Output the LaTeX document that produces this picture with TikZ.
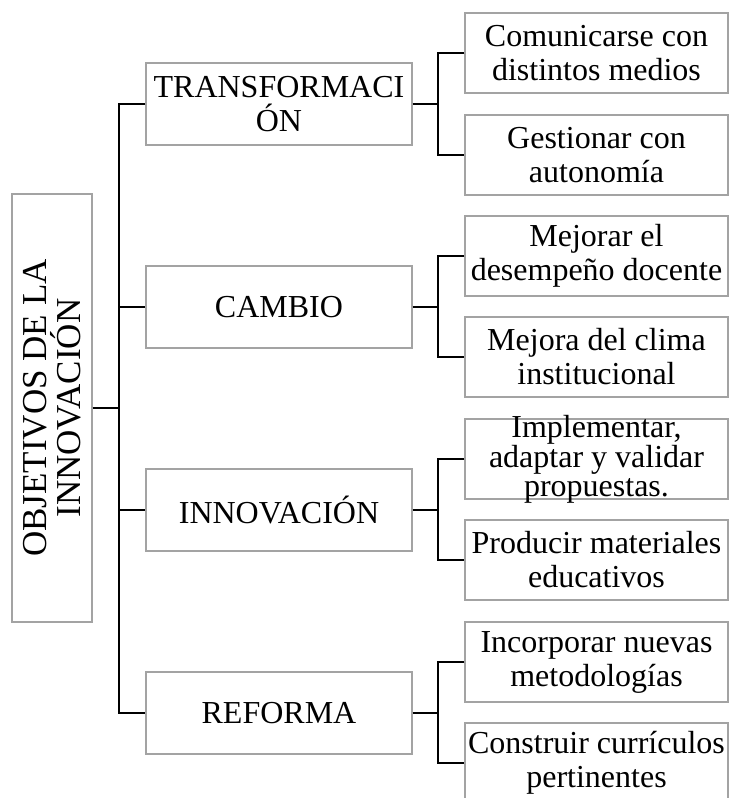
\documentclass[tikz,border=0pt]{standalone}
\usepackage{fontspec}
\setmainfont{Liberation Serif}
\usepackage{xcolor}
\usepackage{tikz}
\definecolor{boxline}{HTML}{A3A3A3}
\definecolor{link}{HTML}{000000}
\tikzset{
  rootbox/.style={draw=boxline, line width=1.3pt, minimum width=428pt, minimum height=80pt, inner sep=0pt, align=center, font=\fontsize{35}{34}\selectfont},
  topic/.style={draw=boxline, line width=1.3pt, minimum width=266pt, minimum height=82pt, inner sep=0pt, align=center, font=\fontsize{32}{34}\selectfont},
  leaf/.style={draw=boxline, line width=1.3pt, minimum width=263pt, minimum height=80pt, inner sep=0pt, align=center, font=\fontsize{32}{34}\selectfont},
  leaftxt/.style={inner sep=0pt, align=center, font=\fontsize{32}{29}\selectfont},
  conn/.style={draw=link, line width=2.6pt}
}
\begin{document}
\begin{tikzpicture}[x=1pt, y=-1pt]
  \useasboundingbox (0,0) rectangle (730,798);

  % root, turned on its side (its south anchor faces right)
  \node[rootbox, rotate=90] (root) at (52,408) {OBJETIVOS DE LA\\INNOVACIÓN};

  \node[topic] (trans) at (279,104) {TRANSFORMACI\\ÓN};
  \node[topic] (camb)  at (279,307) {CAMBIO};
  \node[topic] (innov) at (279,510) {INNOVACIÓN};
  \node[topic] (ref)   at (279,713) {REFORMA};

  \node[leaf] (com)  at (596.5,53)  {Comunicarse con\\distintos medios};
  \node[leaf] (gest) at (596.5,155) {Gestionar con\\autonomía};
  \node[leaf] (mejd) at (596.5,256) {Mejorar el\\desempeño docente};
  \node[leaf] (mejc) at (596.5,357) {Mejora del clima\\institucional};
  \node[leaf] (impl) at (596.5,459) {};
  \node[leaftxt] (impltxt) at (impl.center) {Implementar,\\adaptar y validar\\propuestas.};
  \node[leaf] (prod) at (596.5,560) {Producir materiales\\educativos};
  \node[leaf] (inc)  at (596.5,662) {Incorporar nuevas\\metodologías};
  \node[leaf] (cons) at (596.5,763) {Construir currículos\\pertinentes};

  \coordinate (tk) at (119,408);
  \coordinate (bt) at (438,104);
  \coordinate (bc) at (438,307);
  \coordinate (bi) at (438,510);
  \coordinate (br) at (438,713);

  % trunk
  \draw[conn] (root.south) -- (tk);
  \draw[conn] (trans.west) -| (tk) |- (ref.west);
  \draw[conn] (tk) |- (camb.west);
  \draw[conn] (tk) |- (innov.west);

  % branches
  \draw[conn] (trans.east) -- (bt);
  \draw[conn] (com.west) -| (bt) |- (gest.west);
  \draw[conn] (camb.east) -- (bc);
  \draw[conn] (mejd.west) -| (bc) |- (mejc.west);
  \draw[conn] (innov.east) -- (bi);
  \draw[conn] (impl.west) -| (bi) |- (prod.west);
  \draw[conn] (ref.east) -- (br);
  \draw[conn] (inc.west) -| (br) |- (cons.west);
\end{tikzpicture}
\end{document}
